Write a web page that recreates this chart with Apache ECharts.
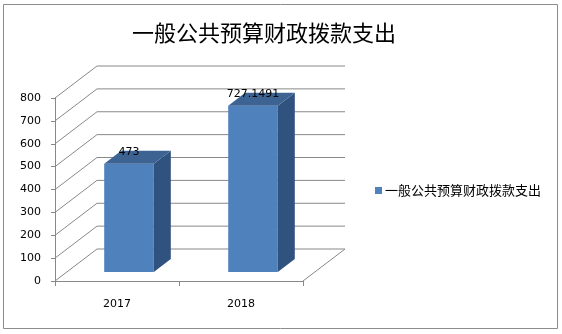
<!DOCTYPE html>
<html><head><meta charset="utf-8">
<script src="https://cdn.jsdelivr.net/npm/echarts@6/dist/echarts.min.js"></script>
<style>html,body{margin:0;padding:0;background:#fff}#c{width:562px;height:334px}</style>
</head><body><div id="c"></div>
<script>
var categories = ['2017', '2018'];
var values = [473, 727.1491];
var valueLabels = ['473', '727.1491'];
var yTicks = [0, 100, 200, 300, 400, 500, 600, 700, 800];
var seriesName = '一般公共预算财政拨款支出';
var titleText = '一般公共预算财政拨款支出';

var WALL_DX = 42, WALL_DY = -32;
var BAR_OX = 12, BAR_OY = -9, BAR_DX = 17, BAR_DY = -13;
var GRID_COLOR = '#888888';

var chart = echarts.init(document.getElementById('c'));
chart.setOption({
  animation: false,
  title: {
    text: titleText, left: 259, top: 17, textAlign: 'center',
    textStyle: {fontSize: 22, fontWeight: 'normal', color: '#000', fontFamily: 'Noto Sans CJK SC'}
  },
  legend: {
    data: [seriesName], left: 370, top: 179, icon: 'rect', itemWidth: 7, itemHeight: 7, itemGap: 4,
    textStyle: {fontSize: 13, color: '#000', fontFamily: 'Noto Sans CJK SC', padding: [0,0,0,-2]}
  },
  graphic: [{type: 'rect', shape: {x: 3.5, y: 4.5, width: 554, height: 324}, style: {fill: 'none', stroke: '#8c8c8c', lineWidth: 1}, silent: true}],
  grid: {left: 55, right: 259, top: 98, bottom: 53},
  xAxis: {
    type: 'category', data: categories,
    axisLine: {lineStyle: {color: GRID_COLOR}},
    axisTick: {show: true, length: 5, lineStyle: {color: GRID_COLOR}},
    axisLabel: {color: '#000', fontSize: 11, margin: 18, fontFamily: 'DejaVu Sans'}
  },
  yAxis: {
    type: 'value', min: 0, max: 800, interval: 100,
    axisLine: {show: true, lineStyle: {color: GRID_COLOR}},
    axisTick: {show: true, length: 4, lineStyle: {color: GRID_COLOR}},
    axisLabel: {color: '#000', fontSize: 11, margin: 14, fontFamily: 'DejaVu Sans'},
    splitLine: {show: false}
  },
  series: [
    {
      type: 'custom', name: 'grid3d', silent: true, legendHoverLink: false,
      data: yTicks.map(function (v) { return [0, v]; }),
      renderItem: function (params, api) {
        var cs = params.coordSys;
        var p = api.coord([0, api.value(1)]);
        var y = p[1];
        var x0 = cs.x, x1 = cs.x + cs.width;
        var children = [
          {type: 'line', shape: {x1: x0, y1: y, x2: x0 + WALL_DX, y2: y + WALL_DY}, style: {stroke: GRID_COLOR, lineWidth: 1}},
          {type: 'line', shape: {x1: x0 + WALL_DX, y1: y + WALL_DY, x2: x1 + WALL_DX, y2: y + WALL_DY}, style: {stroke: GRID_COLOR, lineWidth: 1}}
        ];
        if (api.value(1) === 0) {
          children.push({type: 'line', shape: {x1: x1, y1: y, x2: x1 + WALL_DX, y2: y + WALL_DY}, style: {stroke: GRID_COLOR, lineWidth: 1}});
        }
        return {type: 'group', children: children};
      },
      z: 1
    },
    {
      type: 'custom', name: seriesName,
      itemStyle: {color: '#4F81BD'},
      data: values.map(function (v, i) { return [i, v]; }),
      renderItem: function (params, api) {
        var i = api.value(0);
        var top = api.coord([i, api.value(1)]);
        var base = api.coord([i, 0]);
        var bw = api.size([1, 0])[0] * 0.4;
        var xl = top[0] - bw / 2 + BAR_OX, xr = top[0] + bw / 2 + BAR_OX;
        var yt = top[1] + BAR_OY, yb = base[1] + BAR_OY;
        return {
          type: 'group',
          children: [
            {type: 'rect', shape: {x: xl, y: yt, width: bw, height: yb - yt}, style: {fill: '#4F81BD'}},
            {type: 'polygon', shape: {points: [[xr, yt], [xr + BAR_DX, yt + BAR_DY], [xr + BAR_DX, yb + BAR_DY], [xr, yb]]}, style: {fill: '#30527F'}},
            {type: 'polygon', shape: {points: [[xl, yt], [xl + BAR_DX, yt + BAR_DY], [xr + BAR_DX, yt + BAR_DY], [xr, yt]]}, style: {fill: '#3D6393'}},
            {type: 'text', style: {text: valueLabels[params.dataIndex], x: (xl + xr) / 2, y: yt - 12, align: 'center', verticalAlign: 'middle', fill: '#000', fontSize: 11, fontFamily: 'DejaVu Sans'}}
          ]
        };
      },
      z: 2
    }
  ]
});
</script></body></html>
